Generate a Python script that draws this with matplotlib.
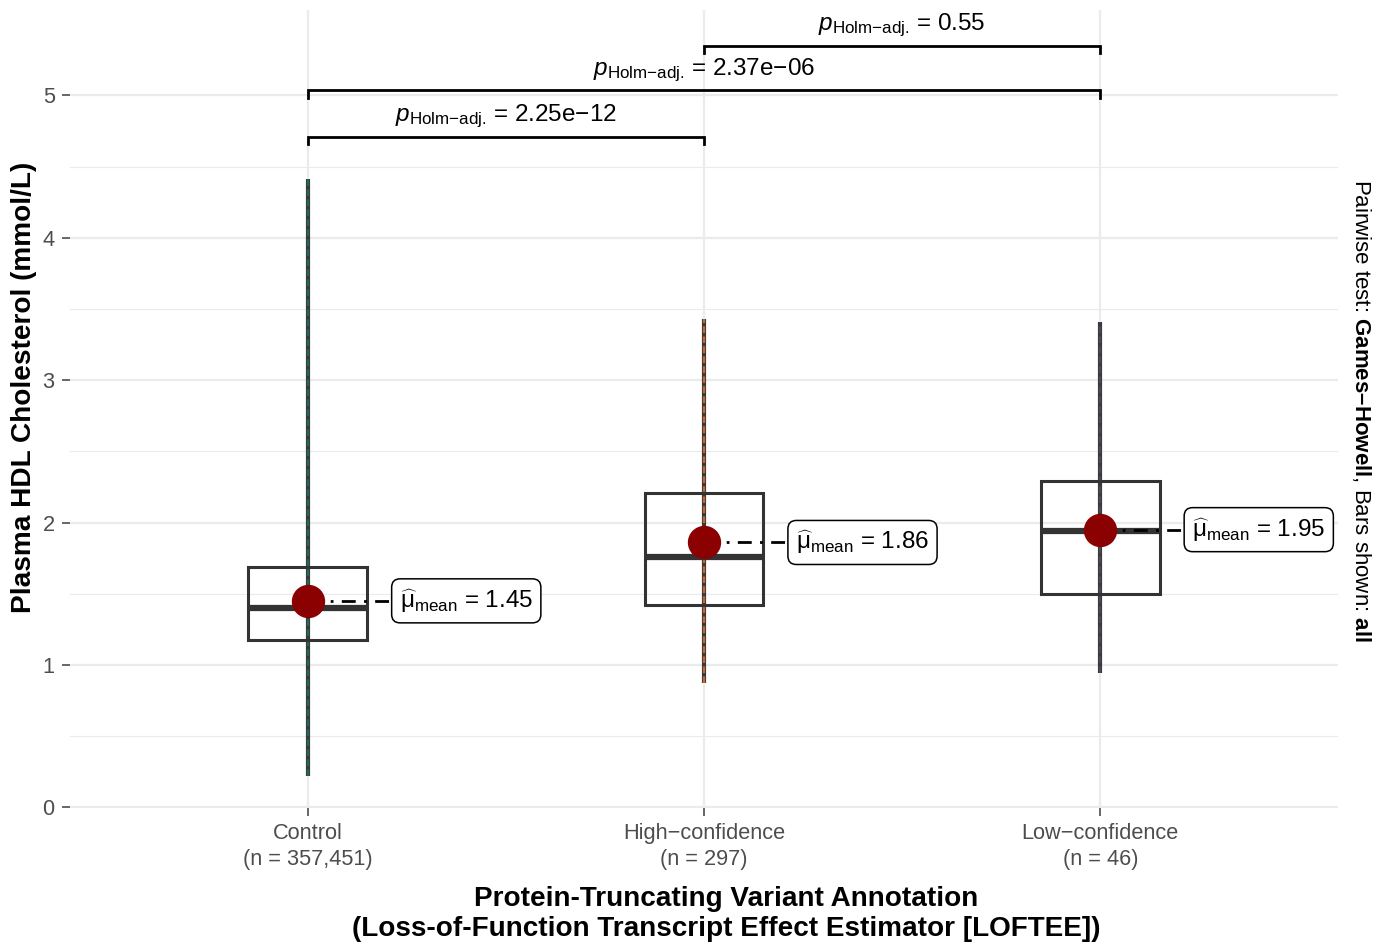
import matplotlib.pyplot as plt
from matplotlib.patches import Rectangle

plt.rcParams['font.family'] = ['Liberation Sans', 'DejaVu Sans']
plt.rcParams['mathtext.fontset'] = 'custom'
plt.rcParams['mathtext.rm'] = 'Liberation Sans'
plt.rcParams['mathtext.it'] = 'Liberation Sans:italic'
plt.rcParams['mathtext.bf'] = 'Liberation Sans:bold'

# values
groups = ['Control', 'High\u2212confidence', 'Low\u2212confidence']
n_obs = ['357,451', '297', '46']
means = [1.45, 1.86, 1.95]
medians = [1.40, 1.755, 1.94]
q1 = [1.175, 1.42, 1.50]
q3 = [1.685, 2.205, 2.29]
y_min = [0.22, 0.87, 0.94]
y_max = [4.41, 3.43, 3.41]
point_cols = ['#1f6b5b', '#c9672a', '#4a4a5a']

# pairwise comparisons
pairs = [(1, 2), (1, 3), (2, 3)]
p_vals = ['2.25e\u221212', '2.37e\u221206', '0.55']
bracket_y = [4.71, 5.035, 5.35]

fig = plt.figure(figsize=(13.79, 9.47), dpi=100)
ax = fig.add_axes([70 / 1379, (947 - 808) / 947, (1338 - 70) / 1379, (808 - 10) / 947])

xs = [1, 2, 3]

# thin "violins" / points
for x, lo, hi, c in zip(xs, y_min, y_max, point_cols):
    ax.vlines(x, lo, hi, color='#3a3a3a', lw=3, zorder=2)
    ax.vlines(x, lo, hi, color=c, lw=1.6, linestyles=(0, (3, 1.5)), zorder=2.1)

# boxplots
bw = 0.3
for x, a, b, m in zip(xs, q1, q3, medians):
    ax.add_patch(Rectangle((x - bw / 2, a), bw, b - a, fill=False,
                           edgecolor='#333333', lw=2.2, zorder=3))
    ax.hlines(m, x - bw / 2, x + bw / 2, color='#333333', lw=4.5, zorder=3)

# means + labels
for x, mu in zip(xs, means):
    ax.plot([x, x + 0.215], [mu, mu], color='black', lw=2,
            linestyle=(0, (5, 3, 1, 3)), zorder=4)
    ax.plot(x, mu, 'o', color='#8b0000', markersize=23, zorder=5)
    ax.text(x + 0.232, mu, '$\\widehat{\\mathrm{\\mu}}_{\\mathrm{mean}}$ = %.2f' % mu,
            fontsize=17.5, ha='left', va='center', zorder=6,
            bbox=dict(boxstyle='round,pad=0.33,rounding_size=0.35',
                      fc='white', ec='black', lw=1.1))

# significance brackets
tick = 0.05
for (a, b), p, yb in zip(pairs, p_vals, bracket_y):
    ax.plot([a, a, b, b], [yb - tick, yb, yb, yb - tick], color='black', lw=2,
            solid_joinstyle='miter', zorder=4)
    ax.text((a + b) / 2, yb + 0.045,
            '$p_{\\text{Holm\u2212adj.}}$ = ' + p,
            fontsize=17.5, ha='center', va='bottom')

ax.set_xlim(0.4, 3.6)
ax.set_ylim(-0.005, 5.6)
ax.set_xticks(xs)
ax.set_xticklabels([f'{g}\n(n = {n})' for g, n in zip(groups, n_obs)],
                   fontsize=15.7, color='#4d4d4d', linespacing=1.3)
ax.set_yticks([0, 1, 2, 3, 4, 5])
ax.set_yticks([0.5, 1.5, 2.5, 3.5, 4.5], minor=True)
ax.tick_params(axis='both', colors='#4d4d4d', labelsize=15.7, length=6, width=1.2)
ax.tick_params(axis='y', which='minor', length=0)
ax.tick_params(axis='x', pad=5)
ax.tick_params(axis='y', pad=5)
ax.grid(True, which='major', color='#ebebeb', lw=1.6, zorder=0)
ax.grid(True, which='minor', axis='y', color='#ebebeb', lw=0.8, zorder=0)
ax.set_axisbelow(True)
for s in ax.spines.values():
    s.set_visible(False)

ax.set_ylabel('Plasma HDL Cholesterol (mmol/L)', fontsize=20.2, fontweight='bold')
ax.yaxis.set_label_coords(-(70 - 37) / 1268, (807 - 386) / 798)
fig.text(726 / 1379, (947 - 914) / 947,
         'Protein-Truncating Variant Annotation\n(Loss-of-Function Transcript Effect Estimator [LOFTEE])',
         fontsize=20.1, fontweight='bold', ha='center', va='center', linespacing=1.2)

fig.text(1362 / 1379, (947 - 410) / 947,
         'Pairwise test: $\\mathbf{Games\u2013Howell}$, Bars shown: $\\mathbf{all}$',
         fontsize=16, rotation=-90, ha='center', va='center')

fig.savefig('out.png', dpi=100)
